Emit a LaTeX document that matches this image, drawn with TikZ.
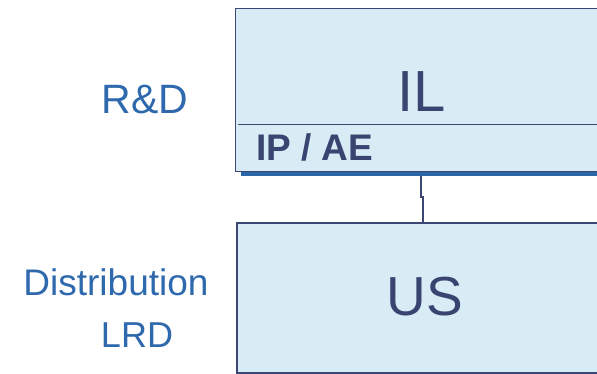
\documentclass[tikz,border=0pt]{standalone}
\usepackage{fontspec}
\setmainfont{Liberation Sans}
\usetikzlibrary{positioning}

\definecolor{boxfill}{HTML}{D7ECF5}
\definecolor{boxline}{HTML}{3C4672}
\definecolor{boxtext}{HTML}{3A4470}
\definecolor{sidetext}{HTML}{2E68AD}
\definecolor{shadowbar}{HTML}{2B66A8}

\begin{document}
\begin{tikzpicture}[x=1pt, y=1pt]
    \tikzstyle{unitbox} = [rectangle, anchor=north west, inner sep=0pt, fill=boxfill, draw=boxline]
    \tikzstyle{unitname} = [text=boxtext, inner sep=0pt, anchor=center]
    \tikzstyle{sidelabel} = [text=sidetext, inner sep=0pt, anchor=center]
    \tikzstyle{link} = [draw=boxline, line width=1.2pt]

    \useasboundingbox (0,0) rectangle (597,-373);
    \clip (0,0) rectangle (597,-373);

    % Upper unit with its shadow strip
    \node (ilshadow) [rectangle, anchor=north west, inner sep=0pt, fill=shadowbar, minimum width=380pt, minimum height=5pt] at (241,-171) {};
    \node (il) [unitbox, line width=1.4pt, minimum width=385pt, minimum height=163pt] at (235,-8) {};
    \draw [boxline, line width=1pt] (238,-124) -- (620,-124);
    \node (iltext) [unitname, font=\fontsize{58}{60}\selectfont] at (422,-92) {IL};
    \node (ipae) [unitname, anchor=west, font=\fontsize{37}{39}\selectfont\bfseries] at (256,-147) {IP / AE};

    % Lower unit
    \node (us) [unitbox, line width=2pt, minimum width=385pt, minimum height=150pt] at (236,-222) {};
    \node (ustext) [unitname, font=\fontsize{55}{57}\selectfont] at (425,-297) {US};

    % Labels on the left
    \node (rnd) [sidelabel, font=\fontsize{41}{43}\selectfont] at (145,-100) {R\&D};
    \node (distr) [sidelabel, font=\fontsize{37}{39}\selectfont] at (116,-282) {Distribution};
    \node (lrd) [sidelabel, font=\fontsize{36}{38}\selectfont] at (137,-335) {LRD};

    % Connector between the units
    \coordinate (jtop) at (421,-197);
    \coordinate (jbot) at (423,-197);
    \draw [link] (ilshadow.south -| jtop) -- (jtop) -- (jbot) -- (us.north -| jbot);
\end{tikzpicture}
\end{document}
